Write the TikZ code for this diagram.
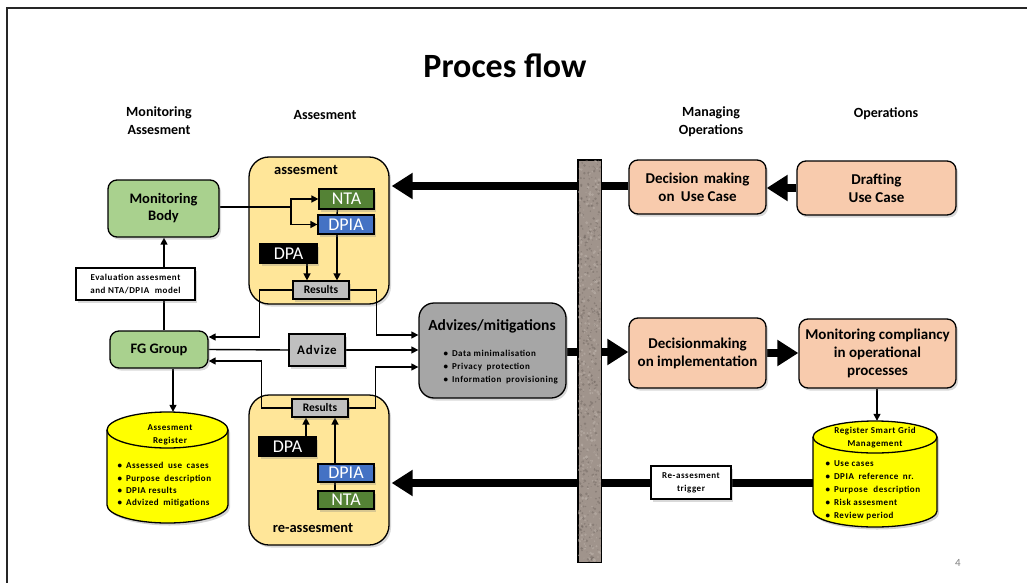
\documentclass[tikz,border=0pt]{standalone}
\usepackage{fontspec}
\setmainfont{Carlito}
\newfontfamily\spcd[LetterSpace=6]{Carlito}
\usetikzlibrary{arrows.meta,shadows}
\definecolor{boxgreen}{HTML}{A9D18E}
\definecolor{boxorange}{HTML}{F8CBAD}
\definecolor{contyellow}{HTML}{FFE699}
\definecolor{resgray}{HTML}{BFBFBF}
\definecolor{advgray}{HTML}{A6A6A6}
\definecolor{ntagreen}{HTML}{548235}
\definecolor{dpiablue}{HTML}{4472C4}
\definecolor{cylyellow}{HTML}{FFFF00}
\definecolor{wallA}{RGB}{160,148,140}
\definecolor{wallB}{RGB}{110,100,94}
\definecolor{wallC}{RGB}{190,180,172}
\pgfdeclarelayer{back}
\pgfdeclarelayer{lines}
\pgfsetlayers{back,lines,main}
\newcommand\mycyl[5]{%
  \pgfmathsetmacro\rxx{(#2-#1)/2}%
  \draw[line width=1.3pt, fill=cylyellow, drop shadow={opacity=0.35,shadow xshift=2pt,shadow yshift=-2.5pt}]
    (#1,-#3-#5) -- (#1,-#4+#5) arc[start angle=180,end angle=360,x radius=\rxx,y radius=#5]
    -- (#2,-#3-#5) arc[start angle=0,end angle=180,x radius=\rxx,y radius=#5] -- cycle;
  \draw[line width=1.3pt] (#1,-#3-#5) arc[start angle=180,end angle=360,x radius=\rxx,y radius=#5];
}
\begin{document}
\begin{tikzpicture}[x=1pt,y=1pt,
  shadowed/.style={drop shadow={opacity=0.3,shadow xshift=2pt,shadow yshift=-2.5pt}},
  basebox/.style={draw, line width=1.3pt, inner sep=0pt, align=center, shadowed},
  gbox/.style={basebox, fill=boxgreen, rounded corners=9pt, font=\bfseries\fontsize{14.5}{17}\selectfont},
  obox/.style={basebox, fill=boxorange, rounded corners=9pt, font=\bfseries\fontsize{15}{18}\selectfont},
  contbox/.style={draw, line width=1.3pt, fill=contyellow, rounded corners=20pt, inner sep=0pt, shadowed},
  tagbox/.style={draw, line width=1.2pt, inner sep=0pt, text=white, font=\fontsize{18}{18}\selectfont, shadowed},
  resbox/.style={draw, line width=1.2pt, inner sep=0pt, fill=resgray, font=\bfseries\fontsize{11.5}{11.5}\selectfont, shadowed},
  wbox/.style={draw, line width=1.2pt, inner sep=0pt, fill=white, align=center, font=\spcd\bfseries\fontsize{9}{13}\selectfont, shadowed},
  header/.style={align=center, font=\bfseries\fontsize{14}{18}\selectfont},
  thinline/.style={line width=1.4pt},
  thinarrow/.style={line width=1.4pt, -{Triangle[length=7pt,width=7pt]}},
  bigline/.style={line width=7.5pt},
  bigarrow/.style={line width=7.5pt, -{Triangle[length=21pt,width=25pt]}},
  bullets/.style={align=left, font=\spcd\bfseries\fontsize{9}{12.3}\selectfont}
]
\useasboundingbox (0,0) rectangle (1027,-583);
% frame
\draw[line width=1.6pt, black!85] (7,-583) -- (7,-8) -- (1027,-8);

% title and headers
\node[font=\bfseries\fontsize{34}{34}\selectfont] (title) at (505,-66) {Proces flow};
\node[header] (h1) at (159,-121) {Monitoring\\Assesment};
\node[header] (h2) at (325,-115) {Assesment};
\node[header] (h3) at (711,-122) {Managing\\Operations};
\node[header] (h4) at (886,-114) {Operations};

% containers
\begin{pgfonlayer}{back}
\node[contbox, minimum width=140pt, minimum height=147pt] (acont) at (319,-230.5) {};
\node[contbox, minimum width=140pt, minimum height=150pt] (rcont) at (319,-470) {};
\end{pgfonlayer}
\node[font=\bfseries\fontsize{14.5}{14.5}\selectfont] (alab) at (306,-170) {assesment};
\node[font=\bfseries\fontsize{14.5}{14.5}\selectfont] (rlab) at (313,-528) {re-assesment};

% left column
\node[gbox, minimum width=111pt, minimum height=57pt] (mb) at (163.5,-208.5) {Monitoring\\Body};
\node[gbox, minimum width=98pt, minimum height=37pt] (fg) at (159,-349.5) {FG Group};
\node[wbox, minimum width=119pt, minimum height=32pt] (eval) at (135.5,-284) {Evaluation assesment\\and NTA/DPIA\hspace{3pt} model};
\node[minimum width=121pt, minimum height=111pt, inner sep=0pt] (areg) at (167.5,-467.5) {};
\mycyl{107}{228}{412}{523}{18}
\node[align=center, font=\spcd\bfseries\fontsize{9}{13}\selectfont] (aregt) at (170,-434.5) {Assesment\\Register};
\node[bullets, anchor=west] (aregb) at (114,-485) {•\hspace{4pt}Assessed\hspace{2pt} use\hspace{2pt} cases\\•\hspace{4pt}Purpose\hspace{2pt} description\\•\hspace{4pt}DPIA results\\•\hspace{4pt}Advized\hspace{2pt} mitigations};

% assessment boxes
\node[tagbox, fill=ntagreen, minimum width=55pt, minimum height=20pt] (nta1) at (346.5,-199) {NTA};
\node[tagbox, fill=dpiablue, minimum width=56pt, minimum height=19pt] (dpia1) at (346,-224.5) {DPIA};
\node[tagbox, fill=black, minimum width=57pt, minimum height=19pt] (dpa1) at (288.5,-253.5) {DPA};
\node[resbox, minimum width=56pt, minimum height=18pt] (res1) at (321,-290) {Results};

\node[resbox, minimum width=56pt, minimum height=18pt] (res2) at (320,-408) {Results};
\node[tagbox, fill=black, minimum width=57pt, minimum height=19pt] (dpa2) at (287.5,-446.5) {DPA};
\node[tagbox, fill=dpiablue, minimum width=56pt, minimum height=18pt] (dpia2) at (346,-473) {DPIA};
\node[tagbox, fill=ntagreen, minimum width=56pt, minimum height=18pt] (nta2) at (346,-500) {NTA};

\node[resbox, minimum width=56pt, minimum height=32pt, font=\spcd\bfseries\fontsize{13}{13}\selectfont] (advize) at (317,-350) {Advize};

% advizes
\node[basebox, fill=advgray, rounded corners=15pt, minimum width=147pt, minimum height=95pt] (adv) at (492.5,-350.5) {};
\node[font=\bfseries\fontsize{15.5}{15.5}\selectfont] (advt) at (492,-326) {Advizes/mitigations};
\node[bullets, anchor=west, font=\spcd\bfseries\fontsize{9}{13}\selectfont] (advb) at (440,-367) {•\hspace{4pt}Data minimalisation\\•\hspace{4pt}Privacy\hspace{2pt} protection\\•\hspace{4pt}Information\hspace{2pt} provisioning};

% right side
\node[obox, minimum width=137pt, minimum height=54pt] (duc) at (697.5,-187) {Decision\hspace{2pt} making\\on\hspace{3pt} Use Case};
\node[obox, minimum width=159pt, minimum height=54pt] (draft) at (876.5,-188) {Drafting\\Use Case};
\node[obox, minimum width=137pt, minimum height=70pt] (dimpl) at (697.5,-353) {Decisionmaking\\on implementation};
\node[obox, minimum width=157pt, minimum height=69pt] (monc) at (877.5,-353.5) {Monitoring compliancy\\in operational\\processes};
\node[minimum width=124pt, minimum height=106pt, inner sep=0pt] (sgm) at (875,-474) {};
\mycyl{813}{937}{421}{527}{16}
\node[align=center, font=\spcd\bfseries\fontsize{9}{13}\selectfont] (sgmt) at (875,-437.5) {Register Smart Grid\\Management};
\node[bullets, anchor=west, font=\spcd\bfseries\fontsize{9}{12.9}\selectfont] (sgmb) at (822,-490) {•\hspace{4pt}Use cases\\•\hspace{4pt}DPIA\hspace{2pt} reference\hspace{2pt} nr.\\•\hspace{4pt}Purpose\hspace{3pt} description\\•\hspace{4pt}Risk assesment\\•\hspace{4pt}Review period};
\node[wbox, minimum width=80pt, minimum height=33pt] (trig) at (691,-482.5) {Re-assesment\\trigger};

% wall
\node[draw, line width=1pt, fill=wallA, minimum width=23pt, minimum height=402pt, inner sep=0pt] (wall) at (589.5,-361) {};
\begin{scope}
\clip (wall.south west) rectangle (wall.north east);
\pgfmathsetseed{7}
\foreach \i in {1,...,420}{
  \pgfmathsetmacro\px{578+23*rnd}
  \pgfmathsetmacro\py{-160-402*rnd}
  \fill[wallB, opacity=0.45] (\px,\py) circle[radius=0.4+1.1*rnd];
}
\foreach \i in {1,...,300}{
  \pgfmathsetmacro\px{578+23*rnd}
  \pgfmathsetmacro\py{-160-402*rnd}
  \fill[wallC, opacity=0.5] (\px,\py) circle[radius=0.5+1.2*rnd];
}
\end{scope}
\draw[line width=1pt] (wall.south west) rectangle (wall.north east);

\node[text=black!50, font=\fontsize{11}{11}\selectfont] (pnum) at (958,-563) {4};

% connectors
\begin{pgfonlayer}{lines}
\coordinate (br) at (291,-207);
\coordinate (sgmw) at ([yshift=-9pt]sgm.west);
\draw[thinline] (mb.east |- br) -- (br);
\draw[thinarrow] (br) |- (nta1.west);
\draw[thinarrow] (br) |- (dpia1.west);
\draw[thinline] ([xshift=-9pt]nta1.south) -- ([xshift=-9pt]dpia1.north);
\draw[thinarrow] ([xshift=-9pt]dpia1.south) -- ([xshift=-9pt]dpia1.south |- res1.north);
\draw[thinarrow] ([xshift=18.5pt]dpa1.south) -- ([xshift=18.5pt]dpa1.south |- res1.north);
\draw[thinarrow] (res1.west) -- ++(-33,0) |- ([yshift=12.5pt]fg.east);
\draw[thinarrow] (res1.east) -- ++(27,0) |- ([yshift=15.5pt]adv.west);
\draw[thinline] (fg.east) -- (advize.west);
\draw[thinarrow] (advize.east) -- (adv.west |- advize.east);
\draw[thinarrow] (res2.west) -- ++(-30,0) |- ([yshift=-11.5pt]fg.east);
\draw[thinarrow] (res2.east) -- ++(27,0) |- ([yshift=-16.5pt]adv.west);
\draw[thinarrow] ([xshift=18.5pt]dpa2.north) -- ([xshift=18.5pt]dpa2.north |- res2.south);
\draw[thinarrow] ([xshift=-11pt]dpia2.north) -- ([xshift=-11pt]dpia2.north |- res2.south);
\draw[thinline] ([xshift=-11pt]dpia2.south) -- ([xshift=-11pt]nta2.north);
\draw[thinarrow] ([xshift=5pt]fg.north) -- ([xshift=5pt]fg.north |- mb.south);
\draw[thinarrow] ([xshift=14pt]fg.south) -- ([xshift=14pt]fg.south |- areg.north);
\draw[thinarrow] ([xshift=-0.5pt]monc.south) -- ([xshift=-0.5pt]monc.south |- sgm.north);
% thick arrows
\draw[bigarrow] ([yshift=1pt]duc.west) -- ([xshift=2pt,yshift=1pt]acont.east |- duc.west);
\draw[bigarrow] (draft.west) -- (duc.east |- draft.west);
\draw[bigarrow] ([yshift=-1.5pt]adv.east) -- ([yshift=-1.5pt]dimpl.west |- adv.east);
\draw[bigarrow] (dimpl.east) -- (monc.west |- dimpl.east);
\draw[bigarrow] (sgmw) -- ([xshift=2pt]rcont.east |- sgmw);
\end{pgfonlayer}
\end{tikzpicture}
\end{document}
